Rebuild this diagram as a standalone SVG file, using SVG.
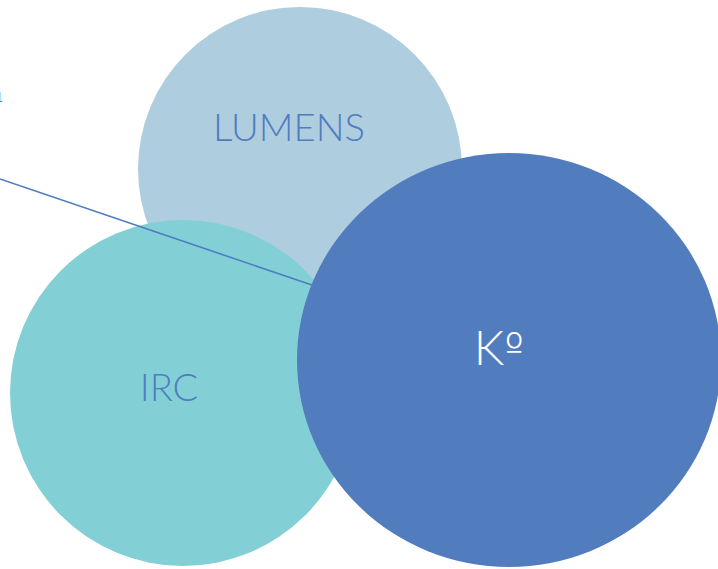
<svg xmlns="http://www.w3.org/2000/svg" width="718" height="569" viewBox="0 0 718 569">
<style>
.lbl{font-family:Lato,"Liberation Sans",sans-serif;font-weight:300;text-anchor:middle}
.blue{fill:#517dbf}
.white{fill:#ffffff}
</style>
<rect width="718" height="569" fill="#ffffff"/>
<text x="0" y="102" font-family="Lato,'Liberation Sans',sans-serif" font-size="14" fill="#517dbf" text-anchor="end" dx="3">1</text>
<g id="lumens">
<circle cx="300" cy="169" r="162" fill="#aecddf"/>
<text class="lbl blue" x="289" y="141" font-size="38" textLength="152" lengthAdjust="spacingAndGlyphs">LUMENS</text>
</g>
<g id="irc">
<circle cx="183" cy="393" r="173" fill="#82d0d6"/>
<text class="lbl blue" x="169" y="401" font-size="38">IRC</text>
</g>
<g id="connectors">
<line x1="0" y1="179" x2="312" y2="285" stroke="#4f7cc0" stroke-width="1.6"/>
</g>
<g id="k">
<ellipse cx="509" cy="360" rx="212" ry="207" fill="#517dbf"/>
<text class="lbl white" x="499" y="365" font-size="48">K<tspan font-family="'DejaVu Sans',sans-serif" font-weight="200" font-size="42" dy="-2">º</tspan></text>
</g>
</svg>
